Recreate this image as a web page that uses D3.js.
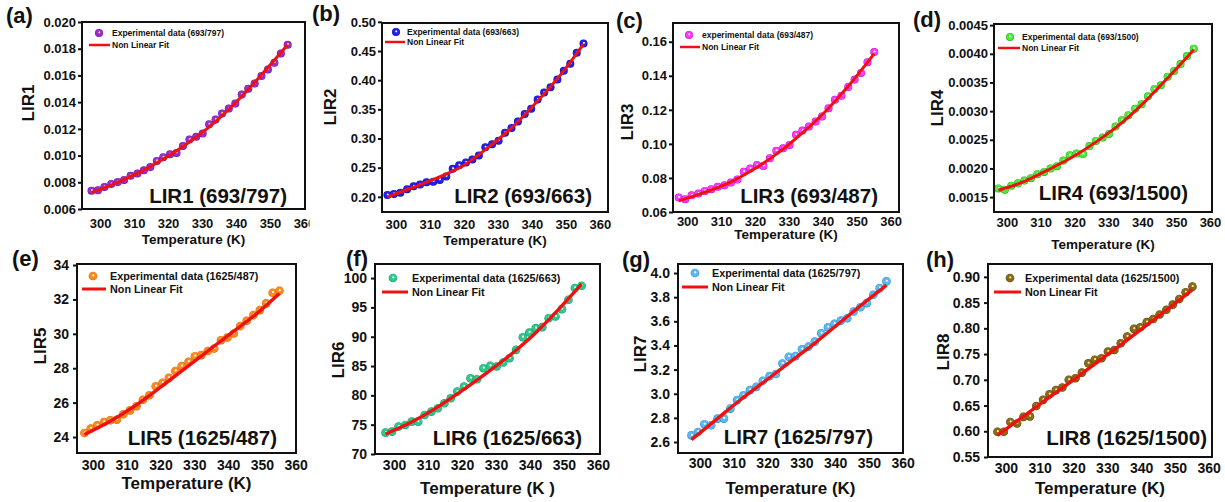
<!DOCTYPE html>
<html>
<head>
<meta charset="utf-8">
<title>LIR vs Temperature</title>
<script src="https://cdn.jsdelivr.net/npm/d3@7"></script>
<style>
  body { margin: 0; background: #fff; }
  svg text { font-family: "Liberation Sans", Arial, sans-serif; font-weight: bold; fill: #111; }
</style>
</head>
<body>
<svg id="chart" width="1225" height="502"></svg>
<script>

// measured temperatures (K)
var temps = [297.5, 299.4, 301.3, 303.3, 305.2, 307.1, 309.0, 311.0, 312.9, 314.8, 316.7,
             318.6, 320.6, 322.5, 324.4, 326.3, 328.3, 330.2, 332.1, 334.0, 335.9, 337.9,
             339.8, 341.7, 343.6, 345.5, 347.5, 349.4, 351.3, 353.2, 355.2];

var lir1 = [0.00737, 0.00740, 0.00765, 0.00787, 0.00803, 0.00818, 0.00848, 0.00866, 0.00890, 0.00915, 0.00960,
            0.00988, 0.01010, 0.01020, 0.01072, 0.01120, 0.01140, 0.01165, 0.01235, 0.01270, 0.01315, 0.01352,
            0.01390, 0.01457, 0.01500, 0.01540, 0.01595, 0.01645, 0.01695, 0.01765, 0.01830];
var lir2 = [0.203, 0.205, 0.207, 0.213, 0.218, 0.221, 0.225, 0.226, 0.229, 0.235, 0.248,
            0.254, 0.259, 0.264, 0.271, 0.285, 0.290, 0.296, 0.310, 0.318, 0.329, 0.342,
            0.351, 0.367, 0.379, 0.388, 0.401, 0.416, 0.428, 0.447, 0.463];
var lir3 = [0.0685, 0.0675, 0.0698, 0.0708, 0.0724, 0.0734, 0.0748, 0.0757, 0.0773, 0.0791, 0.0836,
            0.0856, 0.0876, 0.0870, 0.0915, 0.0960, 0.0974, 0.0994, 0.1053, 0.1078, 0.1102, 0.1131,
            0.1161, 0.1210, 0.1259, 0.1283, 0.1334, 0.1378, 0.1417, 0.1480, 0.1539];
var lir4 = [0.00165, 0.00163, 0.00170, 0.00174, 0.00179, 0.00183, 0.00190, 0.00194, 0.00200, 0.00204, 0.00214,
            0.00223, 0.00226, 0.00225, 0.00239, 0.00248, 0.00254, 0.00260, 0.00273, 0.00284, 0.00293, 0.00304,
            0.00312, 0.00326, 0.00338, 0.00345, 0.00360, 0.00370, 0.00382, 0.00396, 0.00409];
var lir5 = [24.23, 24.49, 24.68, 24.87, 24.97, 25.00, 25.32, 25.55, 25.79, 26.17, 26.43,
            26.95, 27.15, 27.44, 27.84, 28.12, 28.37, 28.70, 28.76, 29.00, 29.15, 29.63,
            29.79, 30.02, 30.45, 30.76, 31.09, 31.38, 31.77, 32.39, 32.50];
var lir6 = [73.64, 73.81, 74.67, 74.95, 75.52, 75.52, 76.66, 77.23, 77.80, 78.65, 79.50,
            80.64, 81.50, 82.92, 82.75, 84.63, 85.03, 84.91, 85.60, 86.33, 87.76, 89.92,
            90.72, 91.46, 91.63, 93.16, 93.45, 94.70, 96.30, 98.30, 98.70];
var lir7 = [2.655, 2.683, 2.747, 2.739, 2.794, 2.794, 2.877, 2.947, 2.988, 3.030, 3.057,
            3.107, 3.146, 3.163, 3.250, 3.307, 3.312, 3.368, 3.390, 3.432, 3.501, 3.551,
            3.579, 3.606, 3.626, 3.681, 3.717, 3.751, 3.820, 3.875, 3.931];
var lir8 = [0.599, 0.599, 0.618, 0.615, 0.628, 0.629, 0.649, 0.661, 0.672, 0.680, 0.685,
            0.700, 0.703, 0.714, 0.732, 0.739, 0.742, 0.755, 0.758, 0.771, 0.784, 0.799,
            0.802, 0.812, 0.818, 0.827, 0.836, 0.846, 0.857, 0.870, 0.881];

// non linear fit, read at a few temperatures
var fitTemps = [297.5, 305, 312, 320, 327, 334, 341, 348, 355.2];
var fit1 = [0.00722, 0.00798, 0.00880, 0.00995, 0.01115, 0.01255, 0.01425, 0.01620, 0.01830];
var fit2 = [0.200, 0.216, 0.232, 0.254, 0.284, 0.318, 0.360, 0.406, 0.462];
var fit3 = [0.0665, 0.0715, 0.0768, 0.0855, 0.0950, 0.1065, 0.1195, 0.1350, 0.1530];
var fit4 = [0.00162, 0.00177, 0.00197, 0.00222, 0.00249, 0.00280, 0.00318, 0.00361, 0.00407];
var fit5 = [24.15, 24.90, 25.75, 26.90, 27.95, 29.00, 30.05, 31.10, 32.35];
var fit6 = [73.4, 75.4, 77.7, 80.8, 83.7, 86.8, 90.3, 94.4, 99.0];
var fit7 = [2.62, 2.79, 2.95, 3.12, 3.27, 3.42, 3.58, 3.74, 3.90];
var fit8 = [0.592, 0.628, 0.662, 0.700, 0.734, 0.768, 0.803, 0.838, 0.875];

var xTicks = [300, 310, 320, 330, 340, 350, 360];
var yTicks1 = [0.006, 0.008, 0.010, 0.012, 0.014, 0.016, 0.018, 0.020];
var yTicks2 = [0.20, 0.25, 0.30, 0.35, 0.40, 0.45, 0.50];
var yTicks3 = [0.06, 0.08, 0.10, 0.12, 0.14, 0.16];
var yTicks4 = [0.0015, 0.0020, 0.0025, 0.0030, 0.0035, 0.0040, 0.0045];
var yTicks5 = [24, 26, 28, 30, 32, 34];
var yTicks6 = [70, 75, 80, 85, 90, 95, 100];
var yTicks7 = [2.6, 2.8, 3.0, 3.2, 3.4, 3.6, 3.8, 4.0];
var yTicks8 = [0.55, 0.60, 0.65, 0.70, 0.75, 0.80, 0.85, 0.90];

var tags = ["(a)", "(b)", "(c)", "(d)", "(e)", "(f)", "(g)", "(h)"];
var yNames = ["LIR1", "LIR2", "LIR3", "LIR4", "LIR5", "LIR6", "LIR7", "LIR8"];
var notes = ["LIR1 (693/797)", "LIR2 (693/663)", "LIR3 (693/487)", "LIR4 (693/1500)",
             "LIR5 (1625/487)", "LIR6 (1625/663)", "LIR7 (1625/797)", "LIR8 (1625/1500)"];
var legendNames = ["Experimental data (693/797)", "Experimental data (693/663)", "experimental data (693/487)",
                   "Experimental data (693/1500)", "Experimental data (1625/487)", "Experimental data (1625/663)",
                   "Experimental data (1625/797)", "Experimental data (1625/1500)"];
var xNames = ["Temperature (K)", "Temperature (K)", "Temperature (K)", "Temperature (K)",
              "Temperature (K)", "Temperature (K )", "Temperature (K)", "Temperature (K)"];

var series = [lir1, lir2, lir3, lir4, lir5, lir6, lir7, lir8];
var fits = [fit1, fit2, fit3, fit4, fit5, fit6, fit7, fit8];
var yTicks = [yTicks1, yTicks2, yTicks3, yTicks4, yTicks5, yTicks6, yTicks7, yTicks8];

// layout of each panel: frame box, domains, text placement
var panels = [
  {box: [82, 22, 305, 209],  xd: [294.7, 360.3], yd: [0.006, 0.020],   fmt: ".3f", top: true, pad: 9.4,
   ball: ["#9a2bd6", "#5e0c9c", "#ffe23a"], tag: [6, 23],   yl: [28, 103],  xl: 244,
   leg: [99, 33, 89, 110, 45], note: [287, 203]},
  {box: [382, 23, 608, 212], xd: [295.9, 362.4], yd: [0.174, 0.498],   fmt: ".2f", top: true, pad: 7.4,
   ball: ["#2020f0", "#0606a0", "#ffffff"], tag: [312, 21], yl: [330, 107], xl: 245,
   leg: [396, 32, 385, 405, 42], note: [592, 203]},
  {box: [673, 23, 899, 212], xd: [295.8, 362.5], yd: [0.06, 0.171],    fmt: ".2f", top: true, pad: 4.4,
   ball: ["#ff38ff", "#c000c0", "#ffffff"], tag: [616, 28], yl: [627, 122], xl: 238.5,
   leg: [689, 35, 680, 700, 47], note: [878, 203]},
  {box: [994, 24, 1212, 212], xd: [296.2, 360.6], yd: [0.00124, 0.00452], fmt: ".4f", top: true, pad: 5.4,
   ball: ["#48ee36", "#1ca00e", "#ffffff"], tag: [913, 27], yl: [937, 108], xl: 249,
   leg: [1010, 37, 998, 1020, 48], note: [1188, 200]},
  {box: [77, 264, 296, 453],  xd: [295.3, 360.1], yd: [23.07, 34.06],  fmt: "d", top: false, pad: 7,
   ball: ["#ff8a1c", "#d05a00", "#ffffff"], tag: [12, 266], yl: [40, 346], xl: 489,
   leg: [93, 276, 82, 106, 289], note: [277, 445]},
  {box: [375, 264, 600, 454], xd: [294.4, 360.6], yd: [70, 102.4],     fmt: "d", top: false, pad: 6,
   ball: ["#2ec98a", "#0e8f62", "#ffffff"], tag: [346, 266], yl: [338, 360], xl: 494,
   leg: [393, 278, 382, 408, 292], note: [582, 445]},
  {box: [678, 264, 903, 453], xd: [293.5, 360.1], yd: [2.509, 4.075],  fmt: ".1f", top: false, pad: 5,
   ball: ["#5ab8f0", "#2582c8", "#ffffff"], tag: [622, 267], yl: [640, 354], xl: 494,
   leg: [695, 273, 682, 708, 287], note: [873, 444]},
  {box: [988, 264, 1212, 457], xd: [294.7, 361], yd: [0.55, 0.925],    fmt: ".2f", top: false, pad: 6,
   ball: ["#8a6a12", "#4e3806", "#f6e8b0"], tag: [926, 267], yl: [943, 352], xl: 494,
   leg: [1010, 278, 994, 1021, 292], note: [1207, 445]}
];

var svg = d3.select("#chart");
var defs = svg.append("defs");

// shaded ball markers
panels.forEach(function(p, i) {
    var g = defs.append("radialGradient")
        .attr("id", "ball" + i)
        .attr("cx", 0.5).attr("cy", 0.5).attr("r", 0.5)
        .attr("fx", 0.55).attr("fy", 0.4);
    g.append("stop").attr("offset", 0).attr("stop-color", p.ball[2]);
    g.append("stop").attr("offset", 0.14).attr("stop-color", p.ball[2]);
    g.append("stop").attr("offset", 0.34).attr("stop-color", p.ball[0]);
    g.append("stop").attr("offset", 0.8).attr("stop-color", p.ball[0]);
    g.append("stop").attr("offset", 1).attr("stop-color", p.ball[1]);
});

panels.forEach(function(p, i) {

    var left = p.box[0], top = p.box[1], right = p.box[2], bottom = p.box[3];
    var tickFont = p.top ? 13 : 14;
    var legFont = p.top ? 8.5 : 10.8;
    var r = p.top ? 4 : 4.3;

    var layer = svg.append("g");

    // panel (b) covers the end of panel (a) axis, as in the original figure
    if (i == 1) {
        layer.append("rect").attr("x", 309.5).attr("y", 0)
            .attr("width", 300).attr("height", 250).attr("fill", "#fff");
    }

    var x = d3.scaleLinear().domain(p.xd).range([left, right]);
    var y = d3.scaleLinear().domain(p.yd).range([bottom, top]);

    var pts = temps.map(function(t, k) { return {t: t, v: series[i][k]}; });
    var fitPts = fitTemps.map(function(t, k) { return {t: t, v: fits[i][k]}; });

    layer.append("g").selectAll("circle")
        .data(pts)
        .enter().append("circle")
            .attr("cx", function(d) { return x(d.t); })
            .attr("cy", function(d) { return y(d.v); })
            .attr("r", r)
            .attr("fill", "url(#ball" + i + ")");

    var line = d3.line()
        .curve(d3.curveMonotoneX)
        .x(function(d) { return x(d.t); })
        .y(function(d) { return y(d.v); });

    layer.append("path")
        .datum(fitPts)
        .attr("d", line)
        .attr("fill", "none")
        .attr("stroke", "#f01010")
        .attr("stroke-width", p.top ? 3 : 3.4);

    // y axis
    var yAxis = layer.append("g")
        .attr("transform", "translate(" + left + ",0)")
        .call(d3.axisLeft(y).tickValues(yTicks[i]).tickSize(4).tickPadding(p.top ? 2 : 4)
            .tickFormat(d3.format(p.fmt)));
    yAxis.select(".domain").remove();
    yAxis.selectAll("line").attr("stroke", "#111").attr("stroke-width", 2);
    yAxis.selectAll("text").attr("font-size", tickFont).attr("fill", "#111")
        .style("font-family", "'Liberation Sans', Arial, sans-serif").style("font-weight", "bold");

    // x axis
    var xAxis = layer.append("g")
        .attr("transform", "translate(0," + bottom + ")")
        .call(d3.axisBottom(x).tickValues(xTicks).tickSize(0).tickPadding(p.pad));
    xAxis.select(".domain").remove();
    xAxis.selectAll("text").attr("font-size", tickFont).attr("fill", "#111")
        .style("font-family", "'Liberation Sans', Arial, sans-serif").style("font-weight", "bold");

    // frame
    layer.append("rect")
        .attr("x", left).attr("y", top)
        .attr("width", right - left).attr("height", bottom - top)
        .attr("fill", "none").attr("stroke", "#111").attr("stroke-width", 2);

    // legend
    layer.append("circle")
        .attr("cx", p.leg[0]).attr("cy", p.leg[1]).attr("r", r)
        .attr("fill", "url(#ball" + i + ")");
    layer.append("text")
        .attr("x", p.leg[3] + (p.top ? 2 : 4)).attr("y", p.leg[1])
        .attr("dy", "0.35em").attr("font-size", legFont)
        .text(legendNames[i]);
    layer.append("line")
        .attr("x1", p.leg[2]).attr("x2", p.leg[3])
        .attr("y1", p.leg[4]).attr("y2", p.leg[4])
        .attr("stroke", "#f01010").attr("stroke-width", p.top ? 2.5 : 3);
    layer.append("text")
        .attr("x", p.leg[3] + (p.top ? 2 : 4)).attr("y", p.leg[4])
        .attr("dy", "0.35em").attr("font-size", legFont)
        .text("Non Linear Fit");

    // big inner annotation
    layer.append("text")
        .attr("x", p.note[0]).attr("y", p.note[1])
        .attr("text-anchor", "end").attr("font-size", 20.5)
        .text(notes[i]);

    // axis titles
    layer.append("text")
        .attr("transform", "translate(" + p.yl[0] + "," + p.yl[1] + ") rotate(-90)")
        .attr("text-anchor", "middle").attr("dy", "0.35em")
        .attr("font-size", 17)
        .text(yNames[i]);

    layer.append("text")
        .attr("x", (left + right) / 2).attr("y", p.xl)
        .attr("text-anchor", "middle")
        .attr("font-size", p.top ? 13.5 : 17)
        .text(xNames[i]);

    // panel tag
    layer.append("text")
        .attr("x", p.tag[0]).attr("y", p.tag[1])
        .attr("font-size", 22)
        .text(tags[i]);
});

</script>
</body>
</html>
